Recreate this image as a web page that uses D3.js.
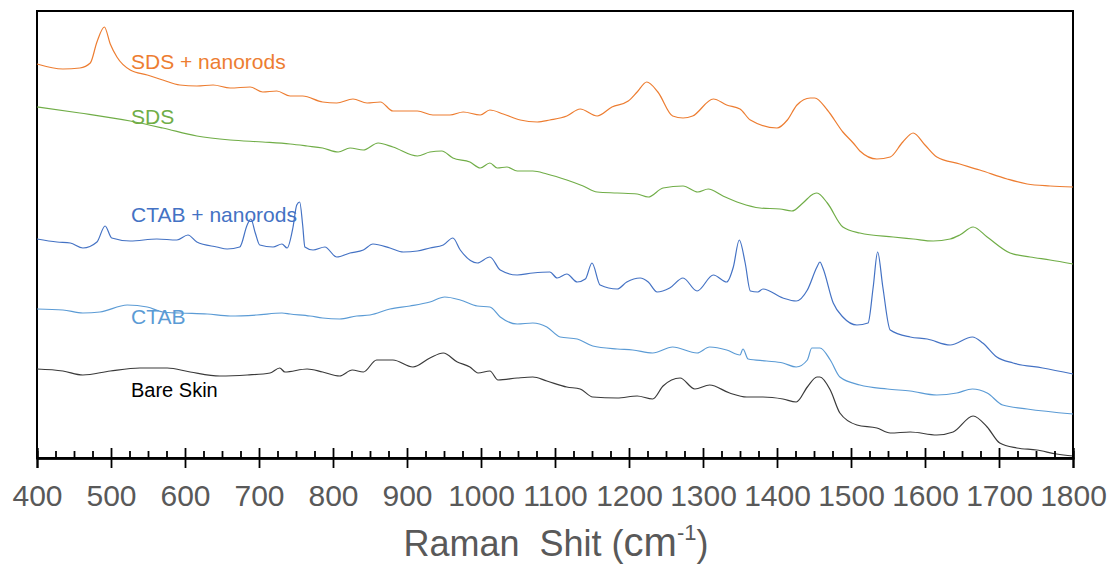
<!DOCTYPE html>
<html>
<head>
<meta charset="utf-8">
<script src="https://cdn.jsdelivr.net/npm/d3@7"></script>
<style>
  body { margin: 0; background: #fff; }
  svg text { font-family: "Liberation Sans", Arial, sans-serif; }
</style>
</head>
<body>
<div id="chart"></div>
<script>
// Raman spectra, [wavenumber (cm-1), intensity (a.u., offset)]
var sdsNanorods = [[400,394],[435,389],[458,390],[472,395],[481,416],[491,431],[499,414],[508,401],[526,388],
  [549,383],[570,378],[593,373],[616,372],[638,373],[661,370],[688,371],[705,366],[724,367],[742,362],[759,362],
  [786,356],[805,355],[827,359],[846,355],[864,356],[881,347],[914,347],[935,343],[958,343],[976,346],[999,343],
  [1012,348],[1030,344],[1053,338],[1076,336],[1093,338],[1116,342],[1134,349],[1157,342],[1177,351],[1199,357],
  [1211,366],[1224,376],[1239,366],[1259,342],[1273,340],[1286,342],[1314,359],[1332,353],[1350,349],[1364,338],
  [1400,330],[1414,338],[1427,353],[1445,360],[1451,360],[1468,348],[1489,326],[1503,315],[1512,307],[1535,299],
  [1553,301],[1570,316],[1584,325],[1600,313],[1616,301],[1647,294],[1674,288],[1711,279],[1738,274],[1769,272],[1800,271]];

var sds = [[400,351],[458,345],[526,337],[570,330],[616,322],[661,318],[705,316],[742,314],[765,312],[786,310],
  [807,306],[823,310],[841,308],[861,315],[881,311],[914,302],[931,306],[947,307],[962,300],[985,296],[999,290],
  [1012,295],[1022,290],[1035,291],[1049,287],[1070,287],[1089,284],[1116,278],[1138,272],[1157,266],[1184,265],
  [1211,264],[1226,261],[1246,270],[1273,272],[1293,266],[1307,269],[1327,262],[1350,255],[1377,250],[1404,249],
  [1420,247],[1435,255],[1449,264],[1454,265],[1468,255],[1489,231],[1512,225],[1557,221],[1584,219],[1611,217],
  [1634,219],[1647,223],[1665,231],[1684,221],[1715,205],[1742,201],[1769,198],[1800,194]];

var ctabNanorods = [[400,219],[427,216],[445,215],[462,210],[481,216],[492,232],[501,220],[526,217],[562,219],
  [589,218],[604,223],[616,216],[643,211],[657,209],[674,211],[684,233],[689,239],[695,225],[701,213],[719,211],
  [731,214],[738,210],[746,231],[751,253],[755,256],[759,233],[762,211],[773,208],[789,211],[805,201],[823,205],
  [841,208],[854,214],[877,210],[895,206],[914,207],[931,210],[949,213],[962,220],[972,208],[995,195],[1012,201],
  [1026,188],[1049,183],[1070,185],[1093,186],[1103,180],[1116,184],[1130,176],[1141,179],[1150,195],[1161,173],
  [1184,169],[1197,176],[1215,180],[1226,176],[1238,166],[1255,170],[1273,180],[1292,167],[1314,183],[1332,176],
  [1341,191],[1349,218],[1357,195],[1364,167],[1374,166],[1381,169],[1408,160],[1426,157],[1441,168],[1454,191],
  [1458,196],[1462,190],[1476,155],[1489,141],[1508,133],[1523,135],[1530,171],[1536,206],[1543,171],[1553,128],
  [1580,121],[1603,119],[1634,113],[1664,121],[1678,115],[1697,101],[1719,95],[1759,90],[1800,84]];

var ctab = [[400,149],[435,148],[462,145],[485,146],[522,153],[549,151],[570,146],[593,145],[630,144],[661,142],
  [697,143],[731,145],[742,144],[769,142],[786,140],[809,139],[832,142],[850,143],[877,149],[904,152],[931,156],
  [951,161],[972,158],[995,152],[1012,151],[1026,141],[1049,134],[1070,135],[1089,131],[1107,121],[1130,119],
  [1151,112],[1184,109],[1205,108],[1232,105],[1259,111],[1292,105],[1309,111],[1332,108],[1350,103],[1354,109],
  [1361,99],[1386,97],[1408,95],[1426,91],[1441,98],[1447,110],[1458,110],[1472,98],[1485,81],[1512,73],[1549,69],
  [1580,67],[1616,63],[1643,65],[1664,69],[1684,65],[1705,53],[1738,49],[1800,44]];

var bareSkin = [[400,89],[435,87],[462,83],[499,87],[539,90],[576,90],[607,86],[647,82],[684,83],[715,85],[728,90],
  [735,86],[765,89],[786,86],[809,82],[826,88],[841,86],[859,98],[881,98],[908,91],[931,100],[949,105],[968,96],
  [985,91],[996,85],[1012,87],[1023,78],[1049,80],[1070,81],[1089,77],[1116,71],[1134,69],[1151,61],[1184,60],
  [1211,62],[1232,59],[1246,72],[1269,80],[1289,69],[1309,73],[1336,65],[1359,61],[1381,61],[1408,59],[1426,56],
  [1441,71],[1454,81],[1458,81],[1472,68],[1485,45],[1508,33],[1535,30],[1553,25],[1580,26],[1616,23],[1638,26],
  [1665,42],[1684,31],[1701,15],[1724,10],[1751,8],[1778,4],[1800,2]];

var seriesNames = ["SDS + nanorods", "SDS", "CTAB + nanorods", "CTAB", "Bare Skin"];
var seriesColors = ["#ED7D31", "#70AD47", "#4472C4", "#5B9BD5", "#3a3a3a"];
var labelColors = ["#ED7D31", "#70AD47", "#4472C4", "#5B9BD5", "#000000"];
var labelY = [69, 124, 222, 324, 397];   // baseline of each in-plot label
var allSeries = [sdsNanorods, sds, ctabNanorods, ctab, bareSkin];

var majorTicks = d3.range(400, 1801, 100);
var minorTicks = d3.range(400, 1800, 25).filter(function (d) { return d % 100 !== 0; });

var W = 1114, H = 565;
var plotL = 37, plotR = 1073, plotT = 11, plotB = 458;

var x = d3.scaleLinear().domain([400, 1800]).range([plotL, plotR]);
var y = d3.scaleLinear().domain([0, 447]).range([plotB, plotT]);

var svg = d3.select("#chart").append("svg").attr("width", W).attr("height", H);

// frame
svg.append("rect").attr("x", plotL).attr("y", plotT).attr("width", plotR - plotL).attr("height", plotB - plotT)
  .attr("fill", "none").attr("stroke", "#000").attr("stroke-width", 2);

var line = d3.line().curve(d3.curveMonotoneX)
  .x(function (d) { return x(d[0]); }).y(function (d) { return y(d[1]); });

svg.selectAll(".spec").data(allSeries).enter().append("path").attr("class", "spec")
  .attr("d", line).attr("fill", "none")
  .attr("stroke", function (d, i) { return seriesColors[i]; })
  .attr("stroke-width", 1.2).attr("stroke-linejoin", "round");

svg.selectAll(".lbl").data(seriesNames).enter().append("text").attr("class", "lbl")
  .attr("x", 131).attr("y", function (d, i) { return labelY[i]; })
  .attr("fill", function (d, i) { return labelColors[i]; })
  .style("font-size", function (d, i) { return i === 4 ? "20px" : "21px"; })
  .text(function (d) { return d; });

// x axis: major ticks crossing the line, minor ticks inside
var axG = svg.append("g").attr("transform", "translate(0," + plotB + ")");
axG.call(d3.axisBottom(x).tickValues(majorTicks).tickSize(10).tickPadding(17).tickFormat(d3.format("d")));
axG.append("g").call(d3.axisTop(x).tickValues(majorTicks).tickSize(10).tickFormat(""));
axG.append("g").call(d3.axisTop(x).tickValues(minorTicks).tickSize(7).tickFormat(""));
axG.selectAll(".domain").attr("stroke", "#000").attr("stroke-width", 2);
axG.selectAll("line").attr("stroke", "#000").attr("stroke-width", 1.8);
axG.selectAll("text").attr("fill", "#595959").style("font-size", "30px")
  .style("font-family", "'Liberation Sans', Arial, sans-serif");

// axis title
var title = svg.append("text").attr("x", 556).attr("y", 556).attr("text-anchor", "middle")
  .attr("fill", "#595959").style("font-size", "36px");
title.append("tspan").text("Raman\u00a0 Shit (");
title.append("tspan").style("font-size", "40px").text("cm");
title.append("tspan").attr("dy", -16).style("font-size", "22px").text("-1");
title.append("tspan").attr("dy", 16).text(")");
</script>
</body>
</html>
